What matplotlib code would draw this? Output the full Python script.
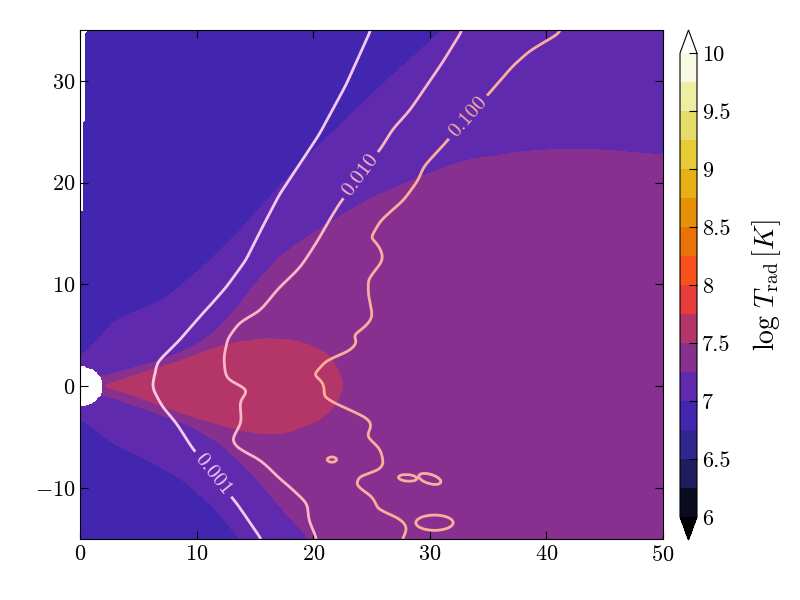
import numpy as np
import matplotlib
matplotlib.use('Agg')
import matplotlib.pyplot as plt

plt.rcParams['font.family'] = 'serif'
plt.rcParams['font.serif'] = ['cmr10']
plt.rcParams['mathtext.fontset'] = 'cm'
plt.rcParams['axes.formatter.use_mathtext'] = True

# ---- data ----------------------------------------------------------------
# band edges of log T_rad (y of upper / lower edge as a function of x)
t70_up_x = [0, 1.7, 2.8, 4.3, 5.7, 7.5, 9.2, 10.9, 13.7, 18.9, 25.7, 31.1, 50]
t70_up_y = [2.8, 4.8, 6.2, 7.2, 7.7, 8.8, 10.4, 12.1, 15.3, 21.9, 29.4, 35.0, 56]
t70_lo_x = [0, 1.4, 2.8, 5.7, 8.6, 11.4, 13.7, 16, 50]
t70_lo_y = [-3.1, -4.3, -5.6, -7.2, -9.0, -11.8, -15.0, -18, -60]

t725_up_x = [0, 2, 4.3, 7.1, 9.4, 11.4, 13.1, 15, 17, 18.9, 22, 25, 29.2, 33, 38.9, 44, 50]
t725_up_y = [0.9, 0.9, 1.6, 2.4, 3.5, 5.2, 7.2, 10.0, 12.6, 14.2, 16.5, 18.5, 20.6, 22.2, 23.2, 23.3, 22.7]
t725_lo_x = [0, 2, 4.3, 6.6, 9.4, 12, 14.3, 16, 17.2, 19.7, 22, 50]
t725_lo_y = [-0.8, -0.7, -1.7, -2.5, -3.8, -5.6, -8.0, -10.2, -11.9, -15.0, -18, -50]

t75_up_x = [0, 2, 2.8, 5.7, 8.6, 11.4, 14.3, 16, 17.2, 19.5, 21.2, 22.2, 22.6, 23.0]
t75_up_y = [0.05, 0.05, 0.3, 1.6, 2.7, 3.8, 4.5, 4.75, 4.7, 4.2, 3.2, 1.5, 0, -1]
t75_lo_x = [0, 2, 2.3, 5.7, 8.6, 11.4, 13.7, 15.5, 17.2, 20.6, 22, 22.6, 23.0]
t75_lo_y = [-0.05, -0.05, -0.1, -1.4, -2.7, -3.6, -4.3, -4.7, -4.8, -3.3, -1.7, 0, 1]

# contour lines of the second quantity (x as a function of y)
q001_y = [-15, -11.3, -5.7, -3.3, -1.7, 0, 1.3, 2.1, 4.2, 7.2, 9.4, 12.1, 15.3, 18.6, 24.5, 29.4, 35]
q001_x = [15.8, 13.55, 9.7, 8.3, 7.1, 6.3, 6.6, 6.7, 8.6, 10.9, 12.6, 14.3, 15.7, 17.2, 20.6, 22.9, 25.1]
q010_y = [-15.1, -13.2, -11.5, -9.9, -9.2, -7.3, -6.3, -5.3, -3.5, -1.4, -0.3, 0.6, 1.6, 2.9,
          4.8, 6.5, 7.5, 9.7, 11.4, 12.1, 14.7, 16.3, 18.0, 23.5, 25.2, 27.1, 31.8, 35]
q010_x = [20.3, 19.6, 19.5, 18.0, 17.2, 15.4, 13.5, 12.9, 13.8, 13.7, 14.6, 12.6, 12.4, 12.3,
          12.6, 13.7, 15.4, 17.0, 18.6, 19.1, 20.6, 21.4, 22.3, 25.9, 26.8, 28.3, 31.1, 32.8]
q100_y = [-15.1, -13.9, -13.2, -12.5, -11.2, -9.9, -8.3, -8.0, -6.3, -5.0, -3.6, -3.0, -1.4, 0.3,
          0.9, 2.9, 3.7, 4.5, 5.0, 5.8, 6.8, 9.1, 10.7, 12.6, 13.7, 14.4, 16.6, 18.6, 20.5, 21.9,
          24.0, 29.3, 31.8, 33.3, 35]
q100_x = [27.4, 28.0, 27.4, 25.5, 25.1, 23.4, 24.0, 26.0, 25.7, 24.4, 25.0, 24.0, 20.8, 20.8,
          19.6, 21.2, 23.2, 23.8, 22.9, 24.2, 25.0, 24.6, 24.6, 25.9, 25.5, 24.6, 25.7, 27.7, 28.9,
          29.4, 31.1, 35.2, 37.1, 38.6, 41.2]

# small closed 0.1 loops: centre, half sizes, tilt, +1 = above 0.1 inside
isl_x = [21.6, 28.1, 30.0, 30.4]
isl_y = [-7.2, -9.0, -9.1, -13.4]
isl_rx = [0.4, 0.8, 1.0, 1.6]
isl_ry = [0.25, 0.32, 0.45, 0.75]
isl_ang = [0, -5, -20, 0]
isl_kind = [1, -1, -1, -1]

line_levels = [0.001, 0.01, 0.1]
line_colors = ['#f6c8f0', '#f9b6c6', '#fbae9c']
label_pos = [(11.7, -8.4), (24.0, 20.8), (33.1, 26.6)]

fill_levels = np.arange(6.0, 10.01, 0.25)
cbar_ticks = [6, 6.5, 7, 7.5, 8, 8.5, 9, 9.5, 10]
cbar_labels = ['6', '6.5', '7', '7.5', '8', '8.5', '9', '9.5', '10']

r_in = 2.0

# ---- grid -----------------------------------------------------------------
x = np.linspace(0, 50, 334)
y = np.linspace(-15, 35, 401)
X, Y = np.meshgrid(x, y)
mask = (np.hypot(X, Y) < r_in - 0.05) | (X < (np.abs(Y) - 8.5) / 58.0)


def smooth(a, sx, sy):
    for axis, s in ((1, sx), (0, sy)):
        n = int(3 * s) + 1
        k = np.exp(-0.5 * (np.arange(-n, n + 1) / s) ** 2)
        k /= k.sum()
        pad = [(0, 0), (0, 0)]
        pad[axis] = (n, n)
        ap = np.pad(a, pad, mode='edge')
        a = np.apply_along_axis(lambda v: np.convolve(v, k, mode='valid'), axis, ap)
    return a


def band(ux, uy, lx, ly, w=0.2):
    up = np.interp(X, ux, uy)
    lo = np.interp(X, lx, ly)
    d = np.minimum(Y - lo, up - Y)
    return np.clip(d / w + 0.5, 0, 1)


logT = 6.875 + 0.25 * (band(t70_up_x, t70_up_y, t70_lo_x, t70_lo_y)
                       + band(t725_up_x, t725_up_y, t725_lo_x, t725_lo_y)
                       + band(t75_up_x, t75_up_y, t75_lo_x, t75_lo_y))
logT = smooth(logT, 8, 2)
logT = np.ma.masked_where(mask, logT)

logq = np.empty_like(X)
for j, yj in enumerate(y):
    k1 = np.interp(yj, q001_y, q001_x)
    k2 = np.interp(yj, q010_y, q010_x)
    k3 = np.interp(yj, q100_y, q100_x)
    logq[j] = np.interp(x, [k1 - 50, k1, k2, k3, k3 + 50], [-4, -3, -2, -1, 0])
logq = smooth(logq, 1, 3)

for cx, cy, rx, ry, ang, kind in zip(isl_x, isl_y, isl_rx, isl_ry, isl_ang, isl_kind):
    a = np.deg2rad(ang)
    u = ((X - cx) * np.cos(a) + (Y - cy) * np.sin(a)) / rx
    v = (-(X - cx) * np.sin(a) + (Y - cy) * np.cos(a)) / ry
    e = np.hypot(u, v)
    if kind > 0:
        logq = np.maximum(logq, -1 - 0.5 * (e - 1))
    else:
        logq = np.minimum(logq, -1 + 0.5 * (e - 1))
q = np.ma.masked_where(mask, 10.0 ** logq)

# ---- plot -----------------------------------------------------------------
fig = plt.figure(figsize=(8, 6), dpi=100)
ax = fig.add_axes([0.1, 0.1017, 0.7288, 0.8483])
cax = fig.add_axes([0.85, 0.1, 0.02125, 0.85])

cf = ax.contourf(X, Y, logT, levels=fill_levels, cmap='CMRmap', extend='both')
cs = ax.contour(X, Y, q, levels=line_levels, colors=line_colors, linewidths=2)
ax.clabel(cs, fmt='%.3f', manual=label_pos, inline=True, fontsize=15)

ax.set_xlim(0, 50)
ax.set_ylim(-15, 35)
ax.set_xticks([0, 10, 20, 30, 40, 50])
ax.set_yticks([-10, 0, 10, 20, 30])
ax.tick_params(direction='in', top=True, right=True, length=6, labelsize=16)
ax.tick_params(axis='x', pad=4)

cbar = fig.colorbar(cf, cax=cax, ticks=cbar_ticks)
cbar.ax.set_yticklabels(cbar_labels)
cbar.ax.tick_params(direction='in', length=6, labelsize=16)
cbar.set_label(r'$\log\, T_{\rm rad}\, [K]$', fontsize=20, labelpad=14)

fig.savefig('out.png', dpi=100)
